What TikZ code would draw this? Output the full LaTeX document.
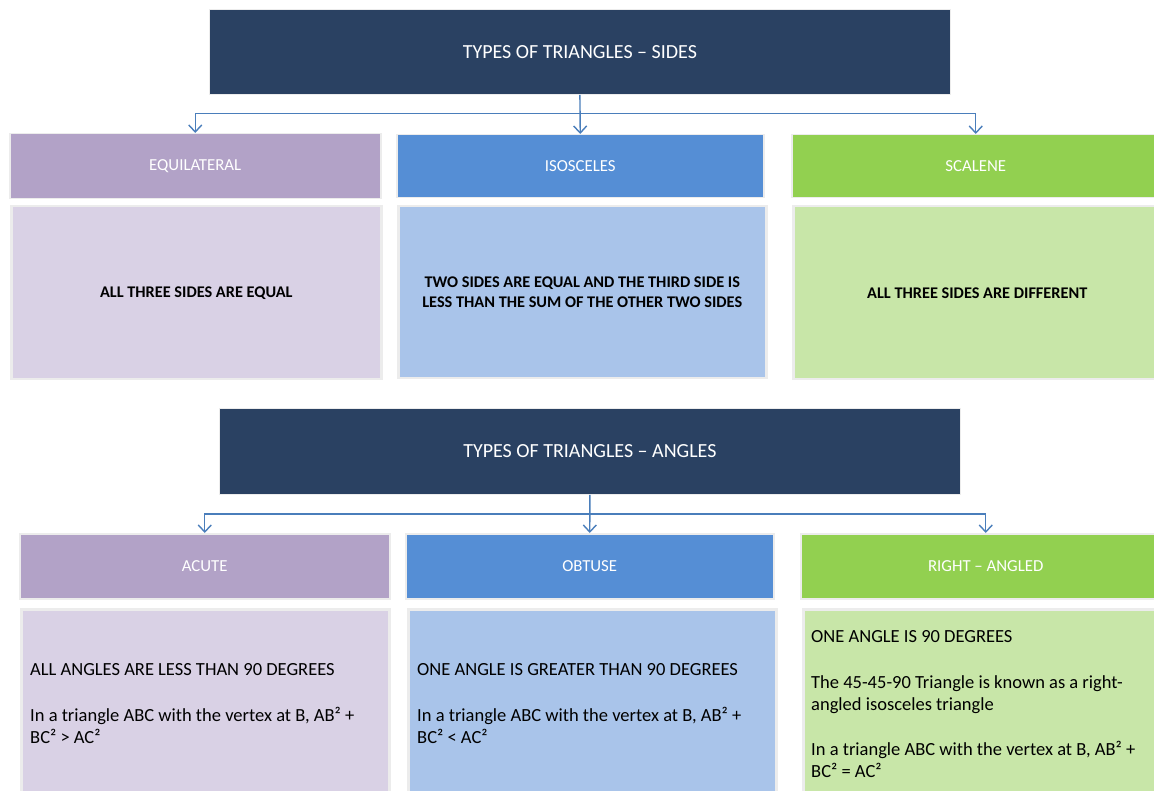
\documentclass[tikz,border=0pt]{standalone}
\usepackage{fontspec}
\setmainfont{Carlito}
\usetikzlibrary{arrows.meta}
\definecolor{navy}{HTML}{2A4162}
\definecolor{purplab}{HTML}{B2A2C7}
\definecolor{purbody}{HTML}{D9D1E5}
\definecolor{bluelab}{HTML}{558ED5}
\definecolor{bluebody}{HTML}{A9C4EA}
\definecolor{greenlab}{HTML}{92D050}
\definecolor{greenbody}{HTML}{C8E6A8}
\definecolor{connblue}{HTML}{4A7EBB}
\definecolor{edge}{HTML}{ECECEC}
\begin{document}
\begin{tikzpicture}[x=1pt,y=-1pt,
  hdr/.style={fill=navy, draw=edge, line width=0.8pt, inner sep=0pt, text=white,
    font=\fontsize{20}{24}\selectfont, anchor=north west},
  lab/.style={draw=edge, line width=1.5pt, inner sep=0pt, text=white,
    font=\fontsize{16.8}{20}\selectfont, anchor=north west},
  bodybox/.style={draw=edge, line width=2.5pt, inner sep=0pt, anchor=north west,
    font=\fontsize{16.3}{20}\selectfont\bfseries, align=center},
  bodytxt/.style={inner sep=0pt, anchor=north west, align=left,
    font=\fontsize{18.5}{22}\selectfont},
  conn/.style={draw=connblue, line width=1.4pt},
  tip/.style={-{Straight Barb[length=7pt,width=13pt,line width=1.4pt]}}]
\clip (0,0) rectangle (1154,791);
\fill[white] (0,0) rectangle (1154,791);
% ---------- SIDES ----------
\node[hdr, minimum width=741pt, minimum height=85pt] (h1) at (209,9) {TYPES OF TRIANGLES – SIDES};
\node[lab, fill=purplab, minimum width=371pt, minimum height=65pt] (equi) at (9,133) {EQUILATERAL};
\node[lab, fill=bluelab, minimum width=367pt, minimum height=63pt] (iso) at (396,134) {ISOSCELES};
\node[lab, fill=greenlab, minimum width=368pt, minimum height=63pt] (scal) at (791,134) {SCALENE};
\node[bodybox, fill=purbody, minimum width=370pt, minimum height=173pt] (equib) at (10,205) {ALL THREE SIDES ARE EQUAL};
\node[bodybox, fill=bluebody, minimum width=368pt, minimum height=172pt] (isob) at (397,205) {TWO SIDES ARE EQUAL AND THE THIRD SIDE IS\\LESS THAN THE SUM OF THE OTHER TWO SIDES};
\node[bodybox, fill=greenbody, minimum width=368pt, minimum height=173pt] (scalb) at (792,205) {ALL THREE SIDES ARE DIFFERENT};
\path (h1.south) ++(0,19) coordinate (j1);
\draw[conn,tip] (h1.south) -- (iso.north);
\draw[conn,tip] (j1) -| (equi.north);
\draw[conn,tip] (j1) -| (scal.north);
% ---------- ANGLES ----------
\node[hdr, minimum width=741pt, minimum height=86pt] (h2) at (219,408) {TYPES OF TRIANGLES – ANGLES};
\node[lab, fill=purplab, minimum width=370pt, minimum height=65pt] (acute) at (19,533) {ACUTE};
\node[lab, fill=bluelab, minimum width=368pt, minimum height=65pt] (obt) at (405,533) {OBTUSE};
\node[lab, fill=greenlab, minimum width=370pt, minimum height=65pt] (right) at (800,533) {RIGHT – ANGLED};
\node[bodybox, fill=purbody, minimum width=368pt, minimum height=200pt] (acuteb) at (20,608) {};
\node[bodybox, fill=bluebody, minimum width=368pt, minimum height=200pt] (obtb) at (407,608) {};
\node[bodybox, fill=greenbody, minimum width=368pt, minimum height=200pt] (rightb) at (802,608) {};
\path (h2.south) ++(0,19) coordinate (j2);
\draw[conn,tip] (h2.south) -- (obt.north);
\draw[conn,tip] (j2) -| (acute.north);
\draw[conn,tip] (j2) -| (right.north);
\node[bodytxt] (acutet) at ([xshift=10pt,yshift=-55pt]acuteb.north west)
  {ALL ANGLES ARE LESS THAN 90 DEGREES\\[24.5pt]In a triangle ABC with the vertex at B, AB² +\\BC² > AC²};
\node[bodytxt] (obtt) at ([xshift=10pt,yshift=-55pt]obtb.north west)
  {ONE ANGLE IS GREATER THAN 90 DEGREES\\[24.5pt]In a triangle ABC with the vertex at B, AB² +\\BC² < AC²};
\node[bodytxt] (rightt) at ([xshift=9pt,yshift=-22pt]rightb.north west)
  {ONE ANGLE IS 90 DEGREES\\[24pt]The 45-45-90 Triangle is known as a right-\\angled isosceles triangle\\[23pt]In a triangle ABC with the vertex at B, AB² +\\BC² = AC²};
\end{tikzpicture}
\end{document}
